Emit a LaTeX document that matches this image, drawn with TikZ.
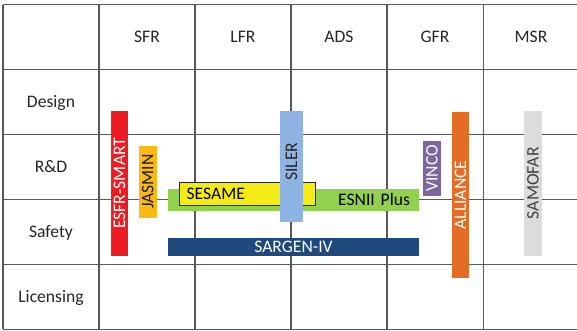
\documentclass[tikz,border=0pt]{standalone}
\usepackage{fontspec}
\setmainfont{Carlito}
\begin{document}
\begin{tikzpicture}[x=1pt,y=-1pt,
  every node/.style={font=\fontsize{17.6}{20}\selectfont, text height=11.3pt, text depth=0pt},
  gridline/.style={draw=gridc, line width=1.3pt},
  hbar/.style={inner sep=0pt, minimum width=251pt},
  vbar/.style={inner sep=0pt, rotate=90},
  hdr/.style={text=black!85}
]
\definecolor{gridc}{HTML}{595959}
\definecolor{esfrc}{HTML}{ED1C24}
\definecolor{jasminc}{HTML}{FDB913}
\definecolor{esniic}{HTML}{92D050}
\definecolor{sesamec}{HTML}{F5EB14}
\definecolor{silerc}{HTML}{8EB4E3}
\definecolor{sargenc}{HTML}{1F497D}
\definecolor{vincoc}{HTML}{8064A2}
\definecolor{alliancec}{HTML}{E46C25}
\definecolor{samofarc}{HTML}{DCDCDD}
\useasboundingbox (0,0) rectangle (577,330);
\fill[white] (0,0) rectangle (577,330);
% grid
\foreach \y in {4.7,69.7,134.7,199.6,264.5,329.4}
  \draw[gridline] (3,\y) -- (578,\y);
\foreach \x in {3,99,195,291,387,483.3}
  \draw[gridline] (\x,4.7) -- (\x,329.4);
% headers
\node[hdr] (sfr) at (147,37.2) {SFR};
\node[hdr] (lfr) at (243,37.2) {LFR};
\node[hdr] (ads) at (339,37.2) {ADS};
\node[hdr] (gfr) at (435,37.2) {GFR};
\node[hdr] (msr) at (531,37.2) {MSR};
\node[hdr] (design) at (51,102.2) {Design};
\node[hdr] (rd) at (51,167.2) {R\&D};
\node[hdr] (safety) at (51,232.1) {Safety};
\node[hdr] (lic) at (51,297) {Licensing};
% bars
\node[vbar, fill=esfrc, text=white, minimum width=145pt, minimum height=17pt] (esfr) at (119.5,183.2) {ESFR-SMART};
\node[vbar, fill=jasminc, text=black!90, minimum width=72pt, minimum height=17.7pt] (jasmin) at (147.8,181.7) {JASMIN};
\node[hbar, fill=esniic, minimum height=21.7pt, inner xsep=9pt, text width=233pt, align=right] (esnii) at (293.5,199.8) {ESNII Plus};
\node[draw=black!85, line width=0.9pt, fill=sesamec, minimum height=23pt, inner ysep=0pt, inner xsep=7.7pt, text width=121.3pt, align=left] (sesame) at (247.3,193.8) {SESAME};
\node[vbar, fill=silerc, minimum width=111pt, minimum height=23pt] (siler) at (291.5,166.2) {};
\node[rotate=90, inner sep=0pt, text=black!85] (silertext) at (291.5,161.5) {SILER};
\node[hbar, fill=sargenc, text=white, minimum height=17.7pt] (sargen) at (293.5,246.8) {SARGEN-IV};
\node[vbar, fill=vincoc, text=white, minimum width=54.7pt, minimum height=18pt] (vinco) at (432,168.3) {VINCO};
\node[vbar, fill=alliancec, text=white, minimum width=166.6pt, minimum height=17pt] (alliance) at (460.5,195) {ALLIANCE};
\node[vbar, fill=samofarc, text=black!75, minimum width=145pt, minimum height=18pt] (samofar) at (533,183.2) {SAMOFAR};
\end{tikzpicture}
\end{document}
